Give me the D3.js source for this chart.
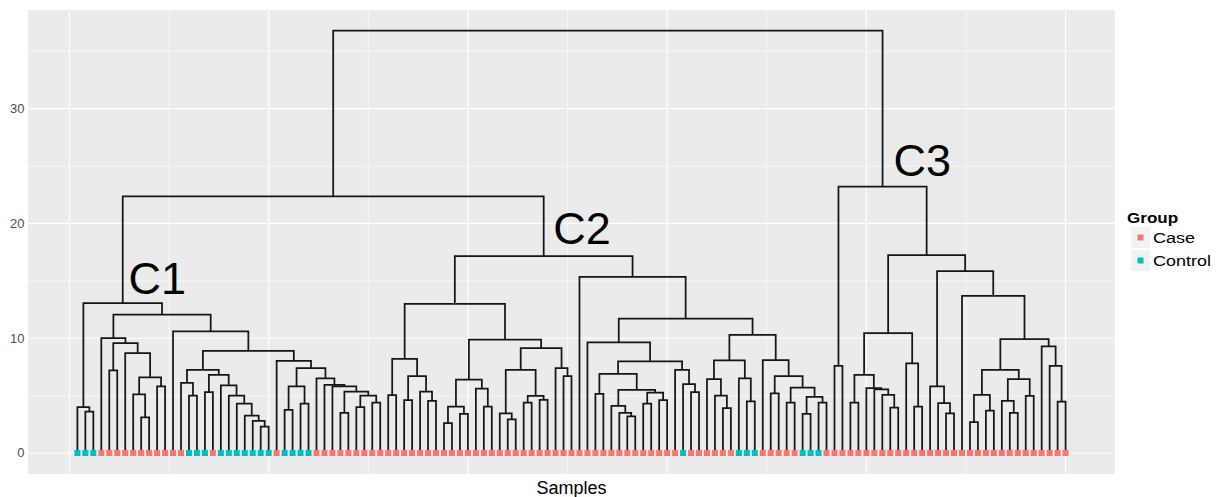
<!DOCTYPE html>
<html>
<head>
<meta charset="utf-8">
<script src="https://cdnjs.cloudflare.com/ajax/libs/d3/7.8.5/d3.min.js"></script>
<style>
body { margin: 0; background: #fff; }
text { font-family: "Liberation Sans", Arial, Helvetica, sans-serif; }
</style>
</head>
<body>
<div id="chart"></div>
<script>
// one code per leaf, left to right: C = Case, O = Control
var groupCodes = "OOOCCCCCCCCCCCOOOCOOOOOOOCOOOOCCCCCCCCC" +
                 "CCCCCCCCCCCCCCCCCCCCCCCCCCCCCCCCCCCCCOCCCCCCOOOCCCCCOOOC" +
                 "CCCCCCCCCCCCCCCCCCCCCCCCCCCCCC";
var groupNames = ["Case", "Control"];
var groupColors = ["#F8766D", "#00BFC4"];
var yTicks = [0, 10, 20, 30];
var clusterNames = ["C1", "C2", "C3"];

// tree nodes: [height, left, right], leaves are sample numbers 1..125
var c1Tree = [13.05,
    [4.0, 1, [3.6, 2, 3]],
    [12.05,
        [10.0, 4, [9.58, [7.2, 5, 6], [8.7, 7, [6.6, [5.1, 8, [3.1, 9, 10]], [5.8, 11, 12]]]]],
        [10.6, 13, [8.9,
            [7.25, [6.1, 14, [5.0, 15, 16]],
                   [6.8, [5.3, 17, 18], [5.9, 19, [5.0, 20, [4.3, 21, [3.26, 22, [2.8, 23, [2.3, 24, 25]]]]]]]],
            [8.03, 26, [7.4, [5.8, [3.75, 27, 28], [4.3, 29, 30]],
                             [6.5, 31, [5.94, 32, [5.8, 33, [5.35, [3.5, 34, 35], [5.0, [4.0, 36, 37], [4.4, 38, 39]]]]]]]]]]]];

var c2Tree = [17.15,
    [13.0,
        [8.2, [5.05, 40, 41], [6.7, [4.6, 42, 43], [5.35, 44, [4.55, 45, 46]]]],
        [9.87,
            [6.4, [4.05, [2.6, 47, 48], [3.4, 49, 50]], [5.6, 51, [4.05, 52, 53]]],
            [9.14, [7.25, [3.46, 54, [2.94, 55, 56]], [4.98, [4.4, 57, 58], [4.63, 59, 60]]],
                   [7.4, 61, [6.7, 62, 63]]]]],
    [15.35, 64,
        [11.7,
            [9.64, 65, [7.98,
                [6.9, [5.15, 66, 67], [5.5, [4.1, 68, [3.5, 69, [3.2, 70, 71]]], [5.27, [4.3, 72, 73], [4.6, 74, 75]]]],
                [7.25, 76, [6.0, 77, [5.3, 78, 79]]]]],
            [10.3,
                [8.06, [6.43, 80, [5.0, 81, [3.9, 82, 83]]], [6.5, 84, [4.5, 85, 86]]],
                [8.1, 87, [6.7, [5.2, 88, 89], [5.7, [4.4, 90, 91], [4.9, [3.4, 92, 93], [4.4, 94, 95]]]]]]]]];

var c3Tree = [23.2,
    [7.6, 96, 97],
    [17.25,
        [10.45,
            [6.8, [4.4, 98, 99], [5.65, 100, [5.55, 101, [5.07, 102, [3.95, 103, 104]]]]],
            [7.8, 105, [4.05, 106, 107]]],
        [15.85,
            [5.8, 108, [4.34, 109, [3.46, 110, 111]]],
            [13.7, 112, [9.93,
                [7.25, [5.07, [2.68, 113, 114], [3.7, 115, 116]], [6.43, [4.54, 117, [3.5, 118, 119]], [4.98, 120, 121]]],
                [9.28, 122, [7.6, 123, [4.48, 124, 125]]]]]]]];

var rootTree = [36.8, [22.35, c1Tree, c2Tree], c3Tree];

function init() {
    var W = 1219, H = 497;
    var left = 28, right = 1115, top = 10, bottom = 474;
    var nLeaves = groupCodes.length;

    var svg = d3.select("#chart").append("svg")
        .attr("width", W).attr("height", H);

    var xScale = d3.scaleLinear()
        .domain([1 - 0.05 * (nLeaves - 1), nLeaves + 0.05 * (nLeaves - 1)])
        .range([left, right]);
    var yScale = d3.scaleLinear()
        .domain([-1.83, 38.6])
        .range([bottom, top]);

    // panel
    svg.append("rect").attr("x", left).attr("y", top)
        .attr("width", right - left).attr("height", bottom - top)
        .attr("fill", "#EBEBEB");

    var xMajor = [0, 25, 50, 75, 100, 125];
    var xMinor = [12.5, 37.5, 62.5, 87.5, 112.5];
    var yMinor = [5, 15, 25, 35];

    var grid = svg.append("g");
    grid.selectAll(".ymin").data(yMinor).enter().append("line")
        .attr("x1", left).attr("x2", right)
        .attr("y1", function(d){ return yScale(d); }).attr("y2", function(d){ return yScale(d); })
        .attr("stroke", "#fff").attr("stroke-width", 0.6);
    grid.selectAll(".xmin").data(xMinor).enter().append("line")
        .attr("y1", top).attr("y2", bottom)
        .attr("x1", function(d){ return xScale(d); }).attr("x2", function(d){ return xScale(d); })
        .attr("stroke", "#fff").attr("stroke-width", 0.6);
    grid.selectAll(".ymaj").data(yTicks).enter().append("line")
        .attr("x1", left).attr("x2", right)
        .attr("y1", function(d){ return yScale(d); }).attr("y2", function(d){ return yScale(d); })
        .attr("stroke", "#fff").attr("stroke-width", 1.2);
    grid.selectAll(".xmaj").data(xMajor).enter().append("line")
        .attr("y1", top).attr("y2", bottom)
        .attr("x1", function(d){ return xScale(d); }).attr("x2", function(d){ return xScale(d); })
        .attr("stroke", "#fff").attr("stroke-width", 1.2);

    // y axis labels
    svg.selectAll(".ylab").data(yTicks).enter().append("text")
        .attr("x", 24.5)
        .attr("y", function(d){ return yScale(d) + 4.5; })
        .attr("text-anchor", "end")
        .attr("font-size", "13px")
        .attr("fill", "#4D4D4D")
        .text(function(d){ return d; });

    // dendrogram segments
    var segs = [];
    function layout(node) {
        if (typeof node === "number") return { x: xScale(node), h: 0 };
        var a = layout(node[1]), b = layout(node[2]);
        segs.push({ x1: a.x, h1: a.h, x2: b.x, h2: b.h, h: node[0] });
        return { x: (a.x + b.x) / 2, h: node[0] };
    }
    layout(rootTree);

    svg.append("g").selectAll("path").data(segs).enter().append("path")
        .attr("d", function(d) {
            return "M" + d.x1 + "," + yScale(d.h1) + "V" + yScale(d.h) +
                   "H" + d.x2 + "V" + yScale(d.h2);
        })
        .attr("fill", "none")
        .attr("stroke", "#151515")
        .attr("stroke-width", 1.75)
        .attr("stroke-linejoin", "miter");

    // leaf markers
    var leaves = d3.range(1, nLeaves + 1);
    svg.append("g").selectAll("rect").data(leaves).enter().append("rect")
        .attr("x", function(d){ return xScale(d) - 3; })
        .attr("y", yScale(0) - 3)
        .attr("width", 6).attr("height", 6)
        .attr("fill", function(d){ return groupCodes[d - 1] === "O" ? groupColors[1] : groupColors[0]; });

    // cluster labels (data coordinates)
    var labelPos = [[7.4, 13.85], [60.7, 18.2], [103.4, 24.1]];
    svg.selectAll(".clab").data(clusterNames).enter().append("text")
        .attr("x", function(d, i){ return xScale(labelPos[i][0]); })
        .attr("y", function(d, i){ return yScale(labelPos[i][1]); })
        .attr("font-family", "'DejaVu Sans', sans-serif")
        .attr("font-size", "45px")
        .attr("fill", "#000")
        .text(function(d){ return d; });

    // x title
    svg.append("text")
        .attr("x", (left + right) / 2)
        .attr("y", 494)
        .attr("text-anchor", "middle")
        .attr("font-size", "18px")
        .attr("fill", "#000")
        .text("Samples");

    // legend
    var lg = svg.append("g");
    lg.append("text")
        .attr("transform", "translate(1127,223) scale(1.1,1)")
        .attr("font-size", "15.5px")
        .attr("font-weight", "bold")
        .attr("fill", "#000")
        .text("Group");
    var keys = lg.selectAll(".key").data(groupNames).enter().append("g")
        .attr("transform", function(d, i){ return "translate(1131," + (227 + i * 23) + ")"; });
    keys.append("rect").attr("width", 19).attr("height", 21).attr("fill", "#F2F2F2");
    keys.append("rect").attr("x", 6.5).attr("y", 7.5).attr("width", 6).attr("height", 6)
        .attr("fill", function(d, i){ return groupColors[i]; });
    keys.append("text")
        .attr("transform", "translate(22,16) scale(1.2,1)")
        .attr("font-size", "15px")
        .attr("fill", "#000")
        .text(function(d){ return d; });
}
window.onload = init;
</script>
</body>
</html>
